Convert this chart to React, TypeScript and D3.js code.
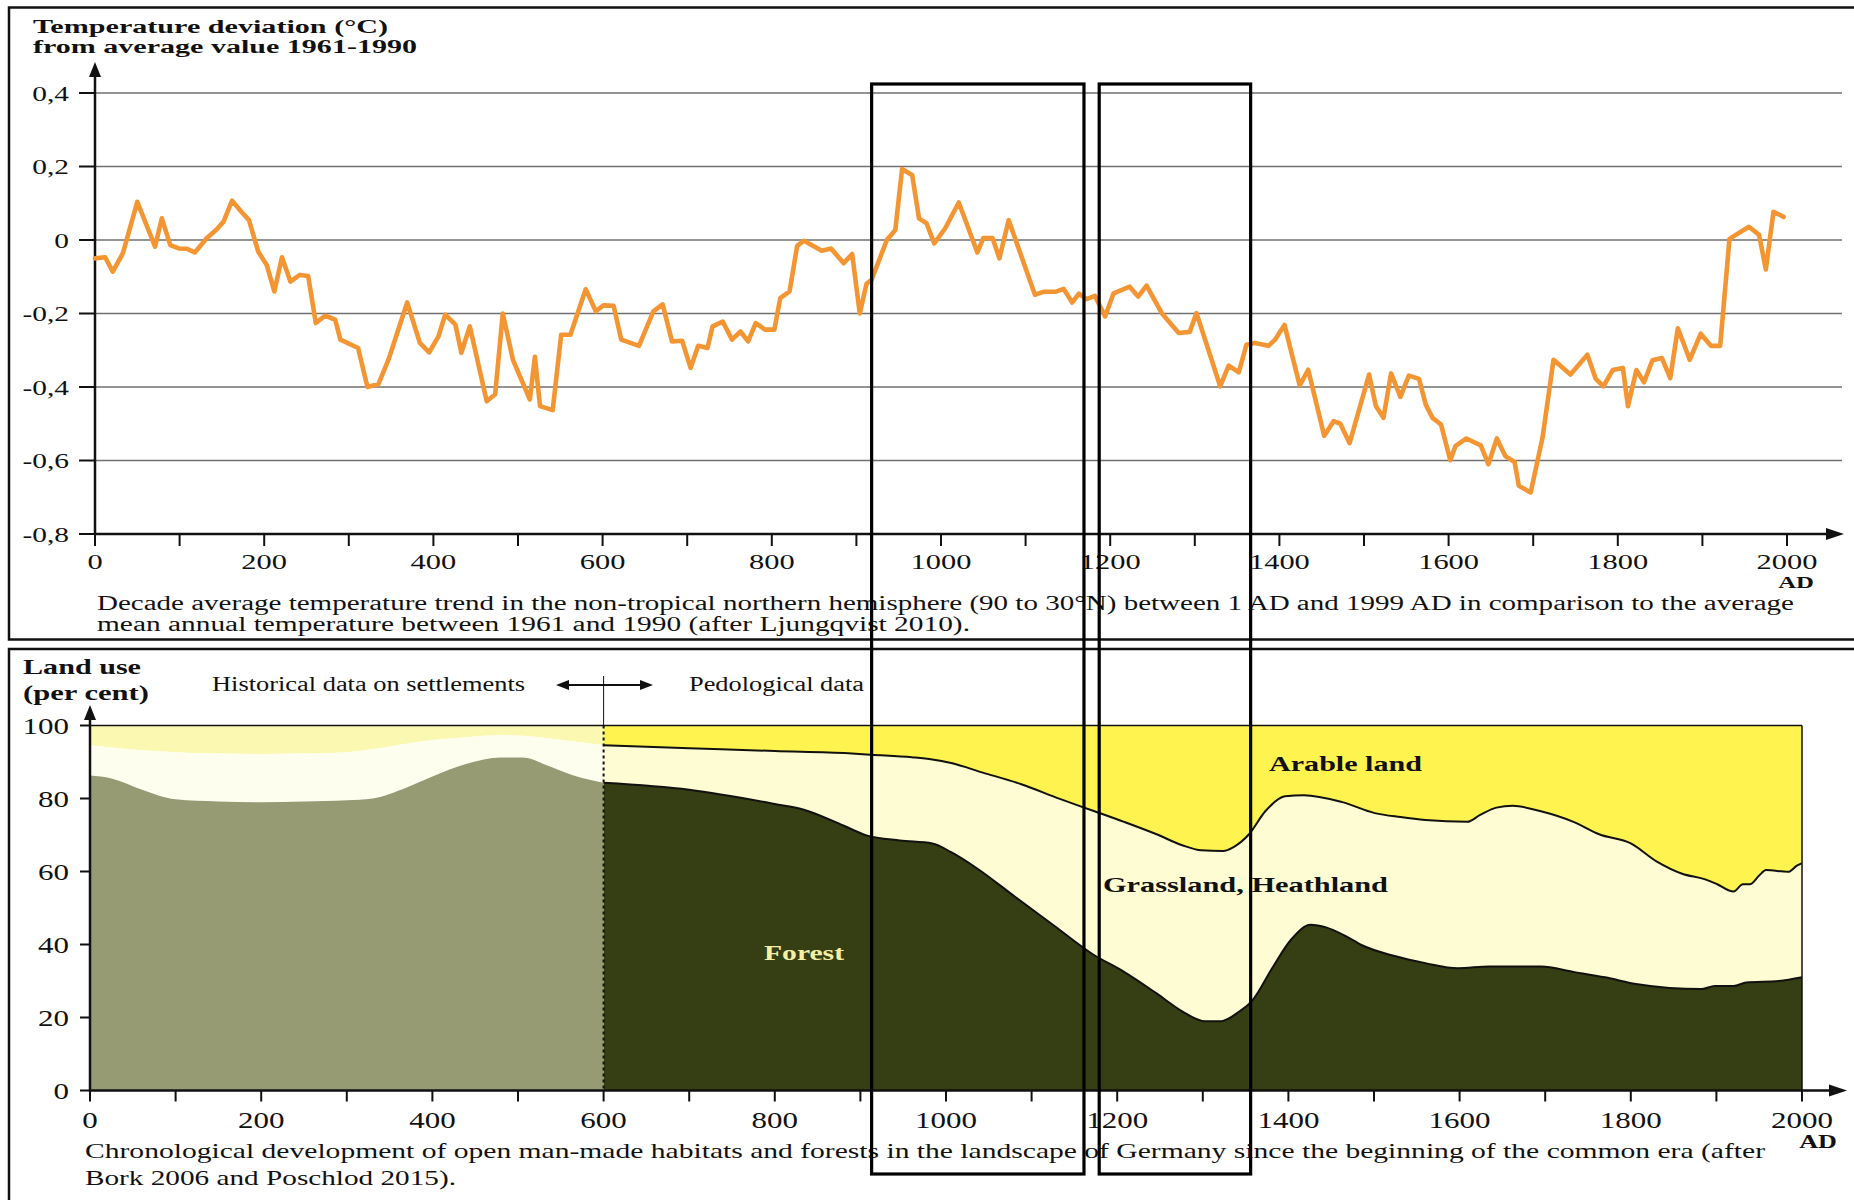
import React from 'react';
import * as d3 from 'd3';

// ---------- Data ----------
const tempYears = [0,12,21,33,50,71,79,89,99,109,118,132,144,152,162,173,182,193,203,212,221,231,242,252,261,272,284,290,311,322,335,347,369,384,395,406,414,426,433,443,463,473,482,494,514,520,526,541,551,562,580,592,601,613,622,643,660,671,682,694,704,713,724,730,742,753,763,772,781,792,803,810,821,830,838,859,870,885,895,904,912,918,936,946,954,966,974,983,992,1005,1021,1043,1050,1061,1069,1080,1111,1121,1135,1145,1155,1163,1172,1182,1194,1204,1223,1233,1243,1261,1281,1294,1302,1330,1340,1352,1361,1371,1387,1395,1406,1424,1434,1453,1464,1472,1483,1506,1514,1523,1532,1543,1553,1565,1573,1581,1591,1602,1608,1621,1638,1647,1657,1667,1678,1683,1697,1711,1724,1744,1764,1774,1783,1794,1806,1812,1822,1831,1841,1852,1862,1871,1885,1898,1910,1921,1932,1955,1967,1975,1984,1996];
const tempValues = [-0.05,-0.047,-0.086,-0.036,0.104,-0.018,0.059,-0.014,-0.023,-0.024,-0.034,0.005,0.029,0.05,0.107,0.077,0.054,-0.032,-0.068,-0.14,-0.047,-0.113,-0.095,-0.098,-0.226,-0.206,-0.217,-0.271,-0.294,-0.4,-0.392,-0.325,-0.17,-0.28,-0.306,-0.262,-0.203,-0.23,-0.307,-0.235,-0.439,-0.42,-0.2,-0.326,-0.434,-0.318,-0.452,-0.463,-0.258,-0.258,-0.134,-0.194,-0.178,-0.179,-0.271,-0.288,-0.194,-0.175,-0.276,-0.274,-0.348,-0.288,-0.294,-0.235,-0.222,-0.271,-0.249,-0.276,-0.226,-0.244,-0.244,-0.158,-0.14,-0.016,-0.002,-0.029,-0.023,-0.063,-0.038,-0.2,-0.119,-0.108,0.0,0.027,0.193,0.176,0.059,0.045,-0.009,0.032,0.102,-0.034,0.005,0.005,-0.05,0.054,-0.149,-0.141,-0.141,-0.133,-0.17,-0.146,-0.161,-0.152,-0.208,-0.145,-0.127,-0.154,-0.124,-0.199,-0.253,-0.25,-0.199,-0.398,-0.342,-0.36,-0.285,-0.28,-0.288,-0.271,-0.231,-0.396,-0.353,-0.533,-0.493,-0.5,-0.553,-0.366,-0.452,-0.484,-0.363,-0.427,-0.369,-0.378,-0.448,-0.484,-0.502,-0.599,-0.561,-0.54,-0.559,-0.61,-0.54,-0.588,-0.604,-0.669,-0.687,-0.538,-0.326,-0.366,-0.312,-0.378,-0.398,-0.354,-0.348,-0.452,-0.354,-0.387,-0.327,-0.321,-0.376,-0.24,-0.326,-0.255,-0.288,-0.288,0.003,0.036,0.014,-0.08,0.077,0.063];

const tempTicks = [0.4, 0.2, 0, -0.2, -0.4, -0.6, -0.8];
const tempTickLabels = ['0,4', '0,2', '0', '-0,2', '-0,4', '-0,6', '-0,8'];
const yearMinorTicks = [0,100,200,300,400,500,600,700,800,900,1000,1100,1200,1300,1400,1500,1600,1700,1800,1900,2000];
const yearLabels = [0,200,400,600,800,1000,1200,1400,1600,1800,2000];
const landTicks = [0, 20, 40, 60, 80, 100];

// historical data on settlements (0-600)
const histYears = [0,25,60,100,150,200,250,300,330,370,400,440,480,505,535,565,600];
const histOpenUpper = [94.6,94.0,93.2,92.7,92.3,92.2,92.3,92.7,93.5,95.0,96.0,96.8,97.3,97.2,96.5,95.6,94.6];
const histForest = [86.3,85.5,82.5,79.8,79.2,79.0,79.2,79.5,80.0,83.0,86.0,89.5,91.2,91.2,89.0,86.3,84.3];

// pedological data (600-2000)
const arableYears = [600,700,800,886,912,960,984,1006,1043,1088,1133,1171,1208,1246,1276,1298,1324,1336,1354,1373,1396,1418,1463,1501,1531,1560,1609,1624,1643,1662,1695,1733,1763,1800,1830,1860,1886,1901,1920,1931,1939,1950,1958,1984,1994,2000];
const arableBoundary = [94.6,93.8,93.0,92.4,92.0,91.3,90.7,89.7,87.1,83.9,79.9,76.7,73.6,70.2,67.2,65.8,65.6,66.7,70.2,76.5,80.6,80.9,79.0,76.0,74.9,74.1,73.6,75.5,77.5,78.0,76.5,73.6,70.2,67.7,62.8,59.4,57.9,56.5,54.5,56.5,56.5,58.9,60.4,59.9,61.6,62.3];
const forestYears = [600,700,800,833,880,907,946,984,1006,1036,1081,1126,1171,1208,1246,1276,1302,1321,1343,1358,1381,1403,1426,1444,1467,1486,1523,1560,1598,1635,1695,1733,1770,1808,1845,1883,1898,1920,1935,1973,2000];
const forestBoundary = [84.3,82.4,78.5,77.0,72.6,69.9,68.5,67.7,65.3,60.9,53.0,45.2,37.4,32.5,26.6,21.7,19.0,19.0,21.7,24.7,33.5,41.3,45.4,44.7,42.3,39.8,36.9,34.9,33.5,34.0,34.0,32.5,31.0,29.1,28.1,27.8,28.6,28.6,29.6,30.0,31.0];

const highlightBoxes = [[918, 1169], [1187, 1366]];

// ---------- Scales ----------
const xTop = d3.scaleLinear().domain([0, 2000]).range([95, 1787]);
const yTop = d3.scaleLinear().domain([-0.8, 0.4]).range([534, 93]);
const xBot = d3.scaleLinear().domain([0, 2000]).range([90, 1802]);
const yBot = d3.scaleLinear().domain([0, 100]).range([1090.5, 725.5]);

const FONT = "'Liberation Serif', 'Times New Roman', serif";
const INK = '#111';

type TProps = {
  x: number; y: number; children: React.ReactNode; size?: number; bold?: boolean;
  anchor?: 'start' | 'middle' | 'end'; sx?: number; fill?: string; len?: number;
};
function T({ x, y, children, size = 20, bold = false, anchor = 'start', sx = 1.45, fill = INK, len }: TProps) {
  if (len) {
    return (
      <text x={x} y={y} fontSize={size} fontFamily={FONT} fontWeight={bold ? 700 : 400}
        fill={fill} textLength={len} lengthAdjust="spacingAndGlyphs">{children}</text>
    );
  }
  return (
    <text transform={`translate(${x},${y}) scale(${sx},1)`} textAnchor={anchor} fontSize={size}
      fontFamily={FONT} fontWeight={bold ? 700 : 400} fill={fill}>{children}</text>
  );
}

export default function App() {
  const pts = tempYears.map((yr, i) => [yr, tempValues[i]] as [number, number]);
  const tempLine = d3.line<[number, number]>().x(d => xTop(d[0])).y(d => yTop(d[1]))(pts) || '';

  const curve = d3.curveMonotoneX;
  const hist = histYears.map((yr, i) => ({ yr, up: histOpenUpper[i], fo: histForest[i] }));
  const histTop = d3.area<any>().curve(curve).x(d => xBot(d.yr)).y0(yBot(100)).y1(d => yBot(d.up))(hist) || '';
  const histOpen = d3.area<any>().curve(curve).x(d => xBot(d.yr)).y0(d => yBot(d.fo)).y1(d => yBot(d.up))(hist) || '';
  const histFor = d3.area<any>().curve(curve).x(d => xBot(d.yr)).y0(yBot(0)).y1(d => yBot(d.fo))(hist) || '';

  const ar = arableYears.map((yr, i) => ({ yr, v: arableBoundary[i] }));
  const fo = forestYears.map((yr, i) => ({ yr, v: forestBoundary[i] }));
  const arableArea = d3.area<any>().curve(curve).x(d => xBot(d.yr)).y0(yBot(100)).y1(d => yBot(d.v))(ar) || '';
  const grassArea = d3.area<any>().curve(curve).x(d => xBot(d.yr)).y0(yBot(0)).y1(d => yBot(d.v))(ar) || '';
  const forestArea = d3.area<any>().curve(curve).x(d => xBot(d.yr)).y0(yBot(0)).y1(d => yBot(d.v))(fo) || '';
  const arableLine = d3.line<any>().curve(curve).x(d => xBot(d.yr)).y(d => yBot(d.v))(ar) || '';
  const forestLine = d3.line<any>().curve(curve).x(d => xBot(d.yr)).y(d => yBot(d.v))(fo) || '';

  const topAxisY = yTop(-0.8);
  const botAxisY = yBot(0);

  return (
    <svg width={1854} height={1200} style={{ position: 'absolute', left: 0, top: 0, background: '#fff' }}
      xmlns="http://www.w3.org/2000/svg">
      <rect x={0} y={0} width={1854} height={1200} fill="#fff" />

      {/* Panel frames */}
      <rect x={9} y={7.5} width={1870} height={632} fill="none" stroke={INK} strokeWidth={2.5} />
      <rect x={9} y={649} width={1870} height={600} fill="none" stroke={INK} strokeWidth={2.5} />

      {/* ---------- TOP CHART ---------- */}
      <T x={33} y={33} size={18} bold len={355}>Temperature deviation (°C)</T>
      <T x={33} y={53} size={18} bold len={384}>from average value 1961-1990</T>

      {tempTicks.filter(t => t > -0.8).map(t => (
        <line key={'g' + t} x1={xTop(0)} x2={1842} y1={yTop(t)} y2={yTop(t)} stroke="#707070" strokeWidth={1.6} />
      ))}
      {tempTicks.map((t, i) => (
        <g key={'yt' + t}>
          <line x1={79} x2={xTop(0)} y1={yTop(t)} y2={yTop(t)} stroke={INK} strokeWidth={2} />
          <T x={69} y={yTop(t) + 7.5} size={21} anchor="end" sx={1.4}>{tempTickLabels[i]}</T>
        </g>
      ))}
      {yearMinorTicks.map(yr => (
        <line key={'xt' + yr} x1={xTop(yr)} x2={xTop(yr)} y1={topAxisY} y2={topAxisY + 12} stroke={INK} strokeWidth={2} />
      ))}
      {yearLabels.map(yr => (
        <T key={'xl' + yr} x={xTop(yr)} y={569} size={21} anchor="middle" sx={1.45}>{yr}</T>
      ))}
      {/* axes */}
      <line x1={xTop(0)} x2={xTop(0)} y1={topAxisY + 1} y2={74} stroke={INK} strokeWidth={2.5} />
      <polygon points={`${xTop(0)},62 ${xTop(0) - 6},77 ${xTop(0) + 6},77`} fill={INK} />
      <line x1={xTop(0) - 1} x2={1828} y1={topAxisY} y2={topAxisY} stroke={INK} strokeWidth={2.5} />
      <polygon points={`1844,${topAxisY} 1826,${topAxisY - 6} 1826,${topAxisY + 6}`} fill={INK} />
      <T x={1796} y={588} size={16.5} bold anchor="middle" sx={1.5}>AD</T>

      <path d={tempLine} fill="none" stroke="#f39532" strokeWidth={4.6} strokeLinejoin="round" strokeLinecap="round" />

      <T x={97} y={610} size={20} len={1697}>Decade average temperature trend in the non-tropical northern hemisphere (90 to 30°N) between 1 AD and 1999 AD in comparison to the average</T>
      <T x={97} y={631} size={20} len={873}>mean annual temperature between 1961 and 1990 (after Ljungqvist 2010).</T>

      {/* ---------- BOTTOM CHART ---------- */}
      <T x={23} y={674} size={21} bold len={118}>Land use</T>
      <T x={23} y={700} size={21} bold len={126}>(per cent)</T>
      <T x={212} y={691} size={20} len={313}>Historical data on settlements</T>
      <T x={689} y={691} size={20} len={175}>Pedological data</T>
      {/* double arrow */}
      <line x1={566} x2={643} y1={685} y2={685} stroke={INK} strokeWidth={2} />
      <polygon points={`556,685 569,680 569,690`} fill={INK} />
      <polygon points={`653,685 640,680 640,690`} fill={INK} />
      <line x1={xBot(600)} x2={xBot(600)} y1={676} y2={yBot(100)} stroke={INK} strokeWidth={1} />

      {/* areas: historical */}
      <path d={histTop} fill="#fbf8b2" />
      <path d={histOpen} fill="#fefeee" />
      <path d={histFor} fill="#969b74" />
      {/* areas: pedological */}
      <path d={arableArea} fill="#fff44f" />
      <path d={grassArea} fill="#fefcd3" />
      <path d={forestArea} fill="#363f13" />
      <path d={arableLine} fill="none" stroke={INK} strokeWidth={2} />
      <path d={forestLine} fill="none" stroke={INK} strokeWidth={2} />

      {/* frame top + right */}
      <line x1={xBot(0)} x2={xBot(2000)} y1={yBot(100)} y2={yBot(100)} stroke={INK} strokeWidth={1.5} />
      <line x1={xBot(2000)} x2={xBot(2000)} y1={yBot(100)} y2={botAxisY} stroke={INK} strokeWidth={1.5} />
      <line x1={xBot(600)} x2={xBot(600)} y1={yBot(100)} y2={botAxisY} stroke={INK} strokeWidth={2} strokeDasharray="3,3" />

      <T x={1269} y={771} size={22} bold len={153}>Arable land</T>
      <T x={1103} y={892} size={22} bold len={285}>Grassland, Heathland</T>
      <T x={764} y={960} size={22} bold len={80} fill="#f5efa6">Forest</T>

      {landTicks.map(t => (
        <g key={'lt' + t}>
          <line x1={80} x2={xBot(0)} y1={yBot(t)} y2={yBot(t)} stroke={INK} strokeWidth={2} />
          <T x={69} y={yBot(t) + 8} size={23.5} anchor="end" sx={1.32}>{t}</T>
        </g>
      ))}
      {yearMinorTicks.map(yr => (
        <line key={'bt' + yr} x1={xBot(yr)} x2={xBot(yr)} y1={botAxisY} y2={botAxisY + 11} stroke={INK} strokeWidth={2} />
      ))}
      {yearLabels.map(yr => (
        <T key={'bl' + yr} x={xBot(yr)} y={1128} size={23.5} anchor="middle" sx={1.32}>{yr}</T>
      ))}
      <line x1={xBot(0)} x2={xBot(0)} y1={botAxisY + 1} y2={718} stroke={INK} strokeWidth={2.5} />
      <polygon points={`${xBot(0)},705 ${xBot(0) - 6},720 ${xBot(0) + 6},720`} fill={INK} />
      <line x1={xBot(0) - 1} x2={1830} y1={botAxisY} y2={botAxisY} stroke={INK} strokeWidth={2.5} />
      <polygon points={`1847,${botAxisY} 1829,${botAxisY - 6} 1829,${botAxisY + 6}`} fill={INK} />
      <T x={1818} y={1148} size={18} bold anchor="middle" sx={1.45}>AD</T>

      <T x={85} y={1158} size={21.5} len={1680}>Chronological development of open man-made habitats and forests in the landscape of Germany since the beginning of the common era (after</T>
      <T x={85} y={1185} size={21.5} len={371}>Bork 2006 and Poschlod 2015).</T>

      {/* highlight boxes */}
      {highlightBoxes.map(([a, b]) => (
        <rect key={'hb' + a} x={xTop(a)} y={84} width={xTop(b) - xTop(a)} height={1174 - 84}
          fill="none" stroke="#000" strokeWidth={3.2} />
      ))}
    </svg>
  );
}
